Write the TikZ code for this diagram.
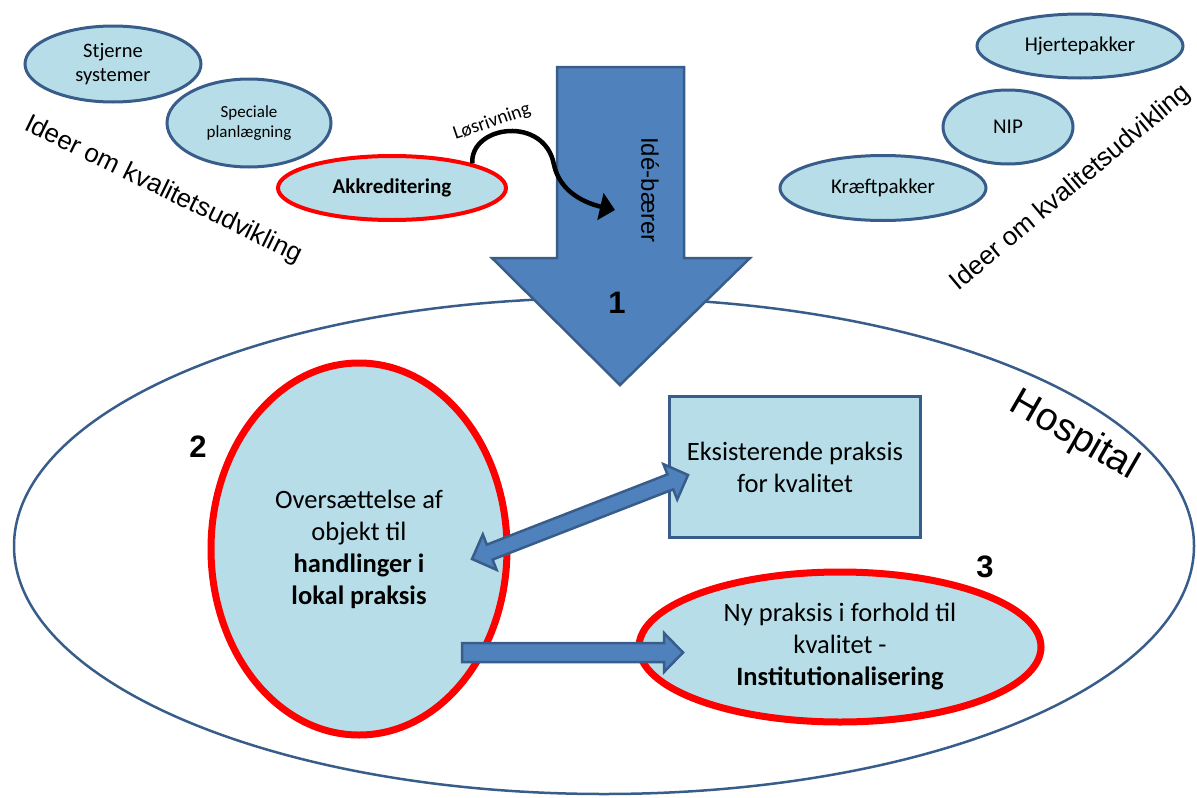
\documentclass[tikz,border=0pt]{standalone}
\usepackage{fontspec}
\setmainfont{Carlito}
\newfontfamily\arialf{Liberation Sans}
\usetikzlibrary{shapes.geometric,arrows.meta}
\definecolor{fillblue}{HTML}{B7DEE8}
\definecolor{lineblue}{HTML}{385D8A}
\definecolor{arrowblue}{HTML}{4F81BD}
\definecolor{myred}{HTML}{FF0000}
\begin{document}
\begin{tikzpicture}[x=1pt,y=-1pt,
  idea/.style={ellipse, draw=lineblue, fill=fillblue, line width=3pt, inner sep=0pt, align=center, font={\fontsize{21}{24}\selectfont}},
  redell/.style={ellipse, draw=myred, fill=fillblue, line width=7pt, inner sep=0pt, align=center, font={\fontsize{26.5}{32}\selectfont}},
  blockarrow/.style={draw=lineblue, fill=arrowblue, line width=2.5pt, line join=miter},
  bignum/.style={font={\arialf\bfseries\fontsize{31}{31}\selectfont}, inner sep=0pt},
  sidetext/.style={font={\arialf\fontsize{26}{26}\selectfont}, inner sep=0pt}
]
\useasboundingbox (0,0) rectangle (1197,798);

% side texts
\node[sidetext, rotate=-26] (ideerL) at (163,190) {Ideer om kvalitetsudvikling};
\node[sidetext, rotate=40] (ideerR) at (1071,188) {Ideer om kvalitetsudvikling};

% idea ellipses
\node[idea, minimum width=176pt, minimum height=76pt, font={\fontsize{20.5}{24}\selectfont}] (stj) at (113,64) {Stjerne\\systemer};
\node[idea, minimum width=164pt, minimum height=88pt, font={\fontsize{17}{20}\selectfont}] (spec) at (249,123) {Speciale\\planlægning};
\node[idea, draw=myred, line width=4pt, minimum width=228pt, minimum height=64pt, font={\bfseries\fontsize{21}{24}\selectfont}] (akk) at (392,188) {Akkreditering};
\node[idea, minimum width=206pt, minimum height=64pt] (hjer) at (1080,46) {Hjertepakker};
\node[idea, minimum width=130pt, minimum height=74pt] (nip) at (1008,127) {NIP};
\node[idea, minimum width=206pt, minimum height=65pt] (kraeft) at (883,188) {Kræftpakker};

% hospital ellipse
\node[ellipse, draw=lineblue, line width=2.5pt, minimum width=1180pt, minimum height=496pt, inner sep=0pt] (hosp) at (604,546) {};

% big arrow
\draw[blockarrow] (557,67) -- (684,67) -- (684,258) -- (750,258) -- (620,385) -- (492,258) -- (557,258) -- cycle;
\node[rotate=-90, font={\arialf\fontsize{24}{24}\selectfont}, inner sep=0pt] (ideb) at (650,190) {Idé-bærer};
\node[bignum] (n1) at (617,303) {1};

% existing practice
\node[draw=lineblue, fill=fillblue, line width=3.5pt, minimum width=251pt, minimum height=141pt, inner sep=0pt, align=center, font={\fontsize{26.5}{32}\selectfont}] (eks) at (795,467) {Eksisterende praksis\\for kvalitet};

% red ellipses
\node[redell, minimum width=296pt, minimum height=372pt] (trans) at (359,549) {Oversættelse af\\objekt til\\\textbf{handlinger i}\\\textbf{lokal praksis}};
\node[redell, minimum width=402pt, minimum height=150pt] (ny) at (840,647) {Ny praksis i forhold til\\kvalitet -\\\textbf{Institutionalisering}};

% double block arrow
\coordinate (da1) at (472,559);
\coordinate (da2) at (688,475);
\begin{scope}[shift={(da1)}, rotate=21.25]
\draw[blockarrow] (0,0) -- (19,-19) -- (19,-8) -- (212.8,-8) -- (212.8,-19) -- (231.8,0) -- (212.8,19) -- (212.8,8) -- (19,8) -- (19,19) -- cycle;
\end{scope}

% single block arrow
\coordinate (ra1) at (462,652.5);
\coordinate (ra2) at (683,652.5);
\begin{scope}[shift={(ra1)}]
\draw[blockarrow] (0,-9.5) -- (202,-9.5) -- (202,-19.5) -- (221,0) -- (202,19.5) -- (202,9.5) -- (0,9.5) -- cycle;
\end{scope}

% curved arrow
\coordinate (curvetip) at (615,210);
\draw[line width=4.5pt, -{Triangle[length=15pt,width=27pt]}] (akk.17) .. controls (470,125) and (545,115) .. (554,165) .. controls (560,192) and (585,203) .. (curvetip);
\node[rotate=19, font={\fontsize{19.5}{19.5}\selectfont}, inner sep=0pt] (los) at (492,122) {Løsrivning};

% numbers and hospital label
\node[bignum] (n2) at (198,447) {2};
\node[bignum] (n3) at (985,567) {3};
\node[rotate=-30, font={\arialf\fontsize{39}{39}\selectfont}, inner sep=0pt] (hosplabel) at (1074,436) {Hospital};
\end{tikzpicture}
\end{document}
